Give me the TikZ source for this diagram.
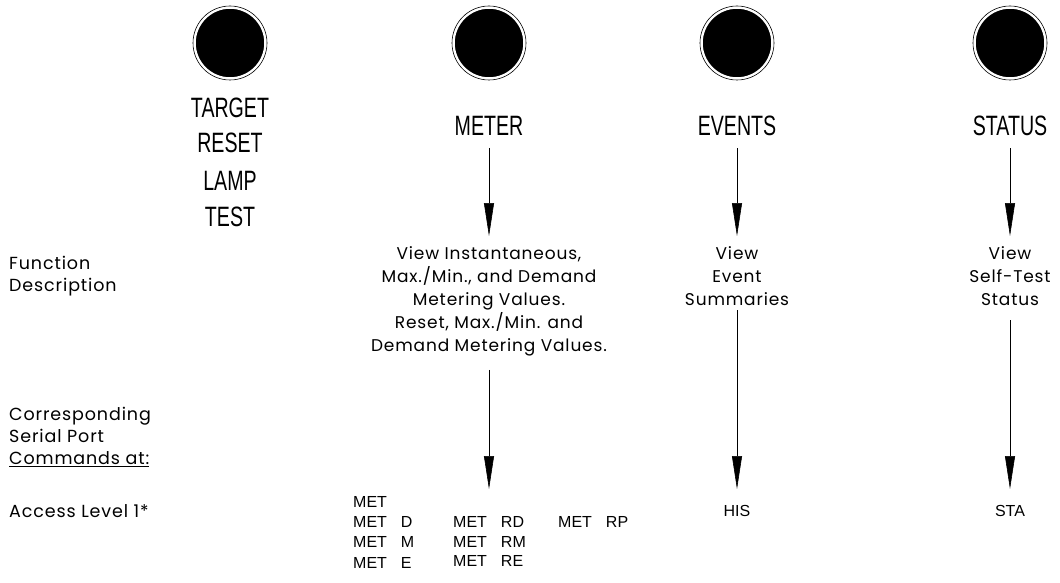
\documentclass[tikz,border=0pt]{standalone}
\usepackage{fontspec}
\usepackage{tikz}
\usetikzlibrary{arrows.meta}
\setmainfont{Liberation Sans}
\newfontfamily\capfont[FakeStretch=0.7]{Liberation Sans}
\newfontfamily\descfont[LetterSpace=5]{Poppins}

\begin{document}
\begin{tikzpicture}[x=1pt, y=-1pt,
  lamp/.style={circle, fill=black, draw=white, line width=1.5pt,
               minimum size=70pt, inner sep=0pt},
  ring/.style={circle, draw, line width=0.6pt, minimum size=74pt, inner sep=0pt},
  key/.style={font=\capfont\fontsize{28}{28}\selectfont, inner sep=0pt},
  desc/.style={font=\descfont\fontsize{17}{23}\selectfont, align=center, inner sep=0pt},
  side/.style={font=\descfont\fontsize{17.5}{22}\selectfont, align=left, anchor=west, inner sep=0pt},
  cmd/.style={font=\fontsize{16}{16}\selectfont, anchor=west, inner sep=0pt},
  flow/.style={-{Triangle[length=33pt, width=10pt]}, line width=0.6pt}]
\useasboundingbox (0,0) rectangle (1060,583);

% front panel lamps
\foreach \name/\xx in {tgt/230, met/489, evt/737, sta/1010}{
  \node[ring] (ring\name) at (\xx,43) {};
  \node[lamp] (lamp\name) at (\xx,43) {};
}

% pushbutton labels
\node[key] (target) at (230,108) {TARGET};
\node[key] (reset)  at (230,143) {RESET};
\node[key] (lamp)   at (230,181) {LAMP};
\node[key] (test)   at (230,217) {TEST};
\node[key] (meter)  at (489,126) {METER};
\node[key] (events) at (737,126) {EVENTS};
\node[key] (status) at (1010,126) {STATUS};

% row captions
\node[side] (fundesc) at (9,276) {Function\\Description};
\node[side] (serial)  at (9,437) {Corresponding\\Serial Port\\\underline{Commands at:}};
\node[side] (access)  at (9,511) {Access Level 1*};

% function descriptions
\node[desc, anchor=north] (metdesc) at (489,246) {View Instantaneous,\\Max./Min., and Demand\\Metering Values.\\Reset, Max./Min. and\\Demand Metering Values.};
\node[desc, anchor=north] (evtdesc) at (737,246) {View\\Event\\Summaries};
\node[desc, anchor=north] (stadesc) at (1010,246) {View\\Self-Test\\Status};

% serial port commands
\node[cmd] (met)   at (353,502) {MET};
\node[cmd] (metd)  at (353,522) {MET\hspace{14pt}D};
\node[cmd] (metm)  at (353,542) {MET\hspace{14pt}M};
\node[cmd] (mete)  at (353,563) {MET\hspace{14pt}E};
\node[cmd] (metrd) at (453,522) {MET\hspace{14pt}RD};
\node[cmd] (metrm) at (453,542) {MET\hspace{14pt}RM};
\node[cmd] (metre) at (453,561) {MET\hspace{14pt}RE};
\node[cmd] (metrp) at (558,522) {MET\hspace{14pt}RP};
\node[cmd, anchor=center] (his) at (737,511) {HIS};
\node[cmd, anchor=center] (stacmd) at (1010,511) {STA};

\coordinate (cmdtop) at (489,489);
\coordinate (evttop) at (737,489);
\coordinate (statop) at (1010,489);

% arrows
\draw[flow, shorten <=12pt, shorten >=10pt] (meter.south) -- (metdesc.north);
\draw[flow, shorten <=12pt, shorten >=10pt] (events.south) -- (evtdesc.north);
\draw[flow, shorten <=12pt, shorten >=10pt] (status.south) -- (stadesc.north);
\draw[flow, shorten <=14pt] (metdesc.south) -- (cmdtop);
\draw[flow, shorten <=5pt] (evtdesc.south) -- (evttop);
\draw[flow, shorten <=15pt] (stadesc.south) -- (statop);
\end{tikzpicture}
\end{document}
